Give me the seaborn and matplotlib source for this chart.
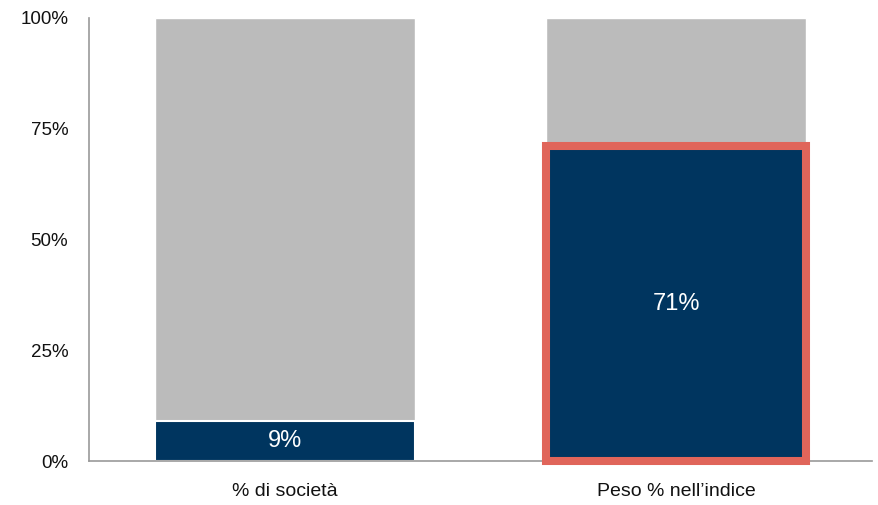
import matplotlib
matplotlib.use("Agg")
import matplotlib.pyplot as plt
import seaborn as sns
import pandas as pd

categories = ["% di società", "Peso % nell\u2019indice"]
shares = [9, 71]
totals = [100, 100]
yticks = [0, 25, 50, 75, 100]
ytick_labels = ["0%", "25%", "50%", "75%", "100%"]

sns.set_theme(style="white")
plt.rcParams["font.family"] = ["Liberation Sans", "DejaVu Sans"]

df = pd.DataFrame({"cat": categories, "share": shares, "total": totals})

fig = plt.figure(figsize=(8.79, 5.05), dpi=100)
ax = fig.add_axes([0.1013, 0.0871, 0.8907, 0.8773])

sns.barplot(data=df, x="cat", y="total", color="#BBBBBB", saturation=1,
            width=0.665, edgecolor="white", linewidth=1.0, ax=ax)
n_grey = len(ax.patches)
sns.barplot(data=df, x="cat", y="share", color="#00355F", saturation=1,
            width=0.665, edgecolor="white", linewidth=1.5, ax=ax)

dark = ax.patches[n_grey:]
hl = dark[1]
hl.set_edgecolor("#E0655A")
hl.set_linewidth(5.8)
hl.set_clip_on(False)
hl.set_zorder(5)

for p, v in zip(dark, shares):
    ax.text(p.get_x() + p.get_width() / 2, v / 2, f"{v}%", ha="center",
            va="center", color="white", fontsize=17, zorder=6)

ax.set_xlim(-0.5, 1.5)
ax.set_ylim(0, 100)
ax.set_yticks(yticks)
ax.set_yticklabels(ytick_labels)
ax.set_xlabel("")
ax.set_ylabel("")
ax.tick_params(axis="y", labelsize=13.5, length=0, pad=15, colors="#111111")
ax.tick_params(axis="x", labelsize=14, length=0, pad=16, colors="#111111")
for s in ["top", "right"]:
    ax.spines[s].set_visible(False)
for s in ["left", "bottom"]:
    ax.spines[s].set_color("#999999")
    ax.spines[s].set_linewidth(1.2)

fig.savefig("out.png", dpi=100)
